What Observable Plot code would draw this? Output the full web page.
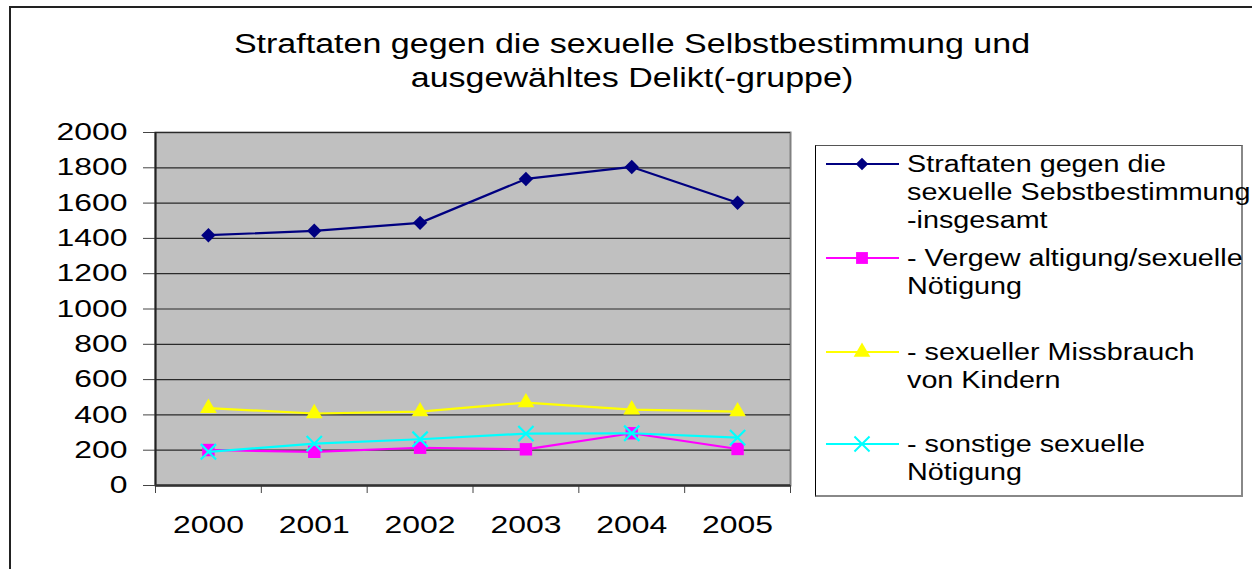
<!DOCTYPE html>
<html>
<head>
<meta charset="utf-8">
<script src="https://cdn.jsdelivr.net/npm/d3@7"></script>
<script src="https://cdn.jsdelivr.net/npm/@observablehq/plot@0.6"></script>
<style>
  html, body { margin: 0; padding: 0; background: #fff; overflow: hidden; }
  #page { position: relative; width: 1252px; height: 569px; font-family: "Liberation Sans", Arial, sans-serif; color: #000; }
  #outer { position: absolute; left: 9px; top: 6px; width: 1260px; height: 620px; border: 2px solid #222; box-sizing: border-box; }
  #title { position: absolute; left: 0; top: 27px; width: 1264px; text-align: center; font-size: 27px; line-height: 34px; transform: scaleX(1.26); transform-origin: 632px 0; }
  #chart { position: absolute; left: 0; top: 110px; }
  #legend { position: absolute; left: 815px; top: 145px; width: 428px; height: 352px; box-sizing: border-box;
            border-left: 1px solid #000; border-top: 1px solid #555; border-right: 2px solid #888; border-bottom: 2px solid #888; }
  .item { position: absolute; left: 0; }
  .item svg { position: absolute; left: 10px; }
  .item .txt { position: absolute; left: 91px; top: 0; font-size: 23px; line-height: 28px; white-space: pre; transform: scaleX(1.25); transform-origin: 0 0; }
</style>
</head>
<body>
<div id="page">
  <div id="outer"></div>
  <div id="title"></div>
  <div id="chart"></div>
  <div id="legend"></div>
</div>
<script>
// ---- data ----
const titleLines = ["Straftaten gegen die sexuelle Selbstbestimmung und", "ausgewähltes Delikt(-gruppe)"];
const years = ["2000", "2001", "2002", "2003", "2004", "2005"];
const gesamt = [1418, 1443, 1488, 1737, 1805, 1602];
const vergewaltigung = [201, 191, 214, 205, 296, 207];
const missbrauch = [438, 408, 419, 470, 430, 419];
const sonstige = [191, 237, 262, 294, 296, 271];
const seriesLabels = [
  "Straftaten gegen die\nsexuelle Sebstbestimmung\n-insgesamt",
  "- Vergew altigung/sexuelle\nNötigung",
  "- sexueller Missbrauch\nvon Kindern",
  "- sonstige sexuelle\nNötigung"
];
const seriesColors = ["#000080", "#FF00FF", "#FFFF00", "#00FFFF"];
const seriesSymbols = ["diamond2", "square", "triangle", "times"];
const yTicks = [0, 200, 400, 600, 800, 1000, 1200, 1400, 1600, 1800, 2000];

const seriesValues = [gesamt, vergewaltigung, missbrauch, sonstige];
const series = seriesValues.map((vals, s) => ({
  color: seriesColors[s],
  symbol: seriesSymbols[s],
  rows: vals.map((v, i) => ({pos: i + 0.5, year: years[i], value: v}))
}));

document.getElementById("title").innerHTML = titleLines.join("<br>");

const marks = [
  Plot.frame({fill: "#C0C0C0", stroke: "#808080", strokeWidth: 2}),
  Plot.ruleY(yTicks.filter(d => d > 0), {y: d => d, stroke: "#2a2a2a", strokeWidth: 1.2}),
  Plot.axisY({ticks: yTicks, tickSize: 12, tickPadding: 16, tickFormat: d => String(d), fontSize: 24, stroke: "#444", label: null}),
  Plot.axisX({ticks: [0, 1, 2, 3, 4, 5, 6], tickSize: 8, tickFormat: () => "", stroke: "#444", label: null}),
  Plot.axisX({ticks: years.map((d, i) => i + 0.5), tickSize: 0, tickPadding: 30, tickFormat: d => years[Math.floor(d)], fontSize: 24, label: null}),
  Plot.ruleX([0], {stroke: "#222", strokeWidth: 2}),
  Plot.ruleY([0], {stroke: "#333", strokeWidth: 2.5})
];
series.forEach((s, k) => {
  marks.push(Plot.line(s.rows, {x: "pos", y: "value", stroke: s.color, strokeWidth: 2.2}));
  if (s.symbol === "times") {
    marks.push(Plot.dot(s.rows, {x: "pos", y: "value", symbol: "times", r: 7, stroke: s.color, strokeWidth: 2.2}));
  } else {
    const r = s.symbol === "diamond2" ? 6.5 : s.symbol === "square" ? 7 : 6.2;
    marks.push(Plot.dot(s.rows, {x: "pos", y: "value", symbol: s.symbol, r, fill: s.color, stroke: "none"}));
  }
});

const chart = Plot.plot({
  width: 810,
  height: 440,
  marginLeft: 155,
  marginRight: 20,
  marginTop: 22,
  marginBottom: 65,
  style: {fontFamily: "'Liberation Sans', Arial, sans-serif", fontSize: "24px", color: "#000", background: "transparent", overflow: "visible"},
  x: {type: "linear", domain: [0, 6], axis: null, label: null},
  y: {domain: [0, 2000], axis: null, label: null},
  marks
});
// widen tick label glyphs horizontally like the original rendering
chart.querySelectorAll('g[aria-label$="tick label"] text').forEach(t => {
  const tr = t.getAttribute("transform");
  if (tr) t.setAttribute("transform", tr + " scale(1.33,1)");
});
document.getElementById("chart").appendChild(chart);

// ---- legend ----
const legend = document.getElementById("legend");
const itemTops = [4, 98, 192, 284];
series.forEach((s, k) => {
  const item = document.createElement("div");
  item.className = "item";
  item.style.top = itemTops[k] + "px";
  const sw = document.createElementNS("http://www.w3.org/2000/svg", "svg");
  sw.setAttribute("width", 74); sw.setAttribute("height", 28);
  const line = document.createElementNS(sw.namespaceURI, "line");
  line.setAttribute("x1", 0); line.setAttribute("x2", 73); line.setAttribute("y1", 14); line.setAttribute("y2", 14);
  line.setAttribute("stroke", s.color); line.setAttribute("stroke-width", 2);
  sw.appendChild(line);
  const sym = d3.symbol(
    {diamond2: d3.symbolDiamond2, square: d3.symbolSquare, triangle: d3.symbolTriangle, times: d3.symbolTimes}[s.symbol],
    s.symbol === "diamond2" ? 100 : s.symbol === "square" ? 140 : s.symbol === "triangle" ? 120 : 150)();
  const p = document.createElementNS(sw.namespaceURI, "path");
  p.setAttribute("d", sym);
  p.setAttribute("transform", "translate(36,14)");
  if (s.symbol === "times") { p.setAttribute("fill", "none"); p.setAttribute("stroke", s.color); p.setAttribute("stroke-width", 2); }
  else p.setAttribute("fill", s.color);
  sw.appendChild(p);
  item.appendChild(sw);
  const txt = document.createElement("div");
  txt.className = "txt";
  txt.textContent = seriesLabels[k];
  item.appendChild(txt);
  legend.appendChild(item);
});
</script>
</body>
</html>
